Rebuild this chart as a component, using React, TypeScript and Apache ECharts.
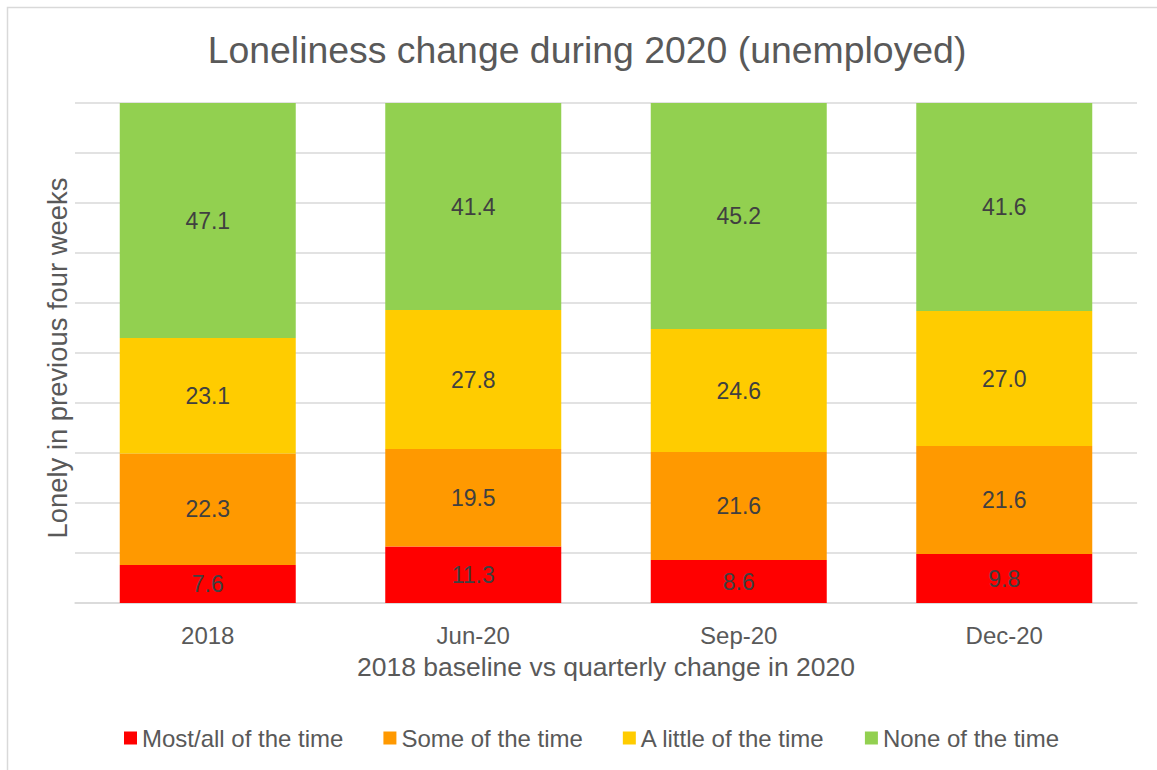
import React, { useEffect, useRef } from "react";
import * as echarts from "echarts";

const categories = ["2018", "Jun-20", "Sep-20", "Dec-20"];
const seriesNames = ["Most/all of the time", "Some of the time", "A little of the time", "None of the time"];
const mostAll = [7.6, 11.3, 8.6, 9.8];
const someTime = [22.3, 19.5, 21.6, 21.6];
const littleTime = [23.1, 27.8, 24.6, 27.0];
const noneTime = [47.1, 41.4, 45.2, 41.6];
const colors = ["#ff0000", "#ff9900", "#ffcc00", "#92d050"];

const FONT = "'Liberation Sans', Arial, sans-serif";

export default function App() {
  const ref = useRef<HTMLDivElement>(null);
  useEffect(() => {
    if (!ref.current) return;
    const chart = echarts.init(ref.current, null, { renderer: "svg" });
    const data = [mostAll, someTime, littleTime, noneTime];
    chart.setOption({
      animation: false,
      backgroundColor: "#ffffff",
      textStyle: { fontFamily: FONT },
      title: {
        text: "Loneliness change during 2020 (unemployed)",
        left: 582,
        top: 26,
        textAlign: "center",
        textStyle: { fontFamily: FONT, fontSize: 37.4, fontWeight: "normal", color: "#595959" },
      },
      graphic: [
        {
          type: "rect",
          shape: { x: 7.5, y: 7.5, width: 1200, height: 800 },
          style: { fill: "none", stroke: "#d9d9d9", lineWidth: 1.5 },
          silent: true,
        },
      ],
      legend: {
        bottom: 15,
        left: 119,
        icon: "rect",
        itemWidth: 13,
        itemHeight: 13,
        itemGap: 40,
        textStyle: { fontFamily: FONT, fontSize: 24, color: "#595959" },
        data: seriesNames,
      },
      grid: { left: 75, right: 20, top: 103, bottom: 167 },
      xAxis: {
        type: "category",
        data: categories,
        axisLine: { lineStyle: { color: "#d9d9d9", width: 1.5 } },
        axisTick: { show: false },
        axisLabel: { fontFamily: FONT, fontSize: 24, color: "#595959", margin: 20 },
        name: "2018 baseline vs quarterly change in 2020",
        nameLocation: "middle",
        nameGap: 50,
        nameTextStyle: { fontFamily: FONT, fontSize: 26.5, color: "#595959" },
      },
      yAxis: {
        type: "value",
        min: 0,
        max: 100,
        interval: 10,
        axisLabel: { show: false },
        axisLine: { show: false },
        axisTick: { show: false },
        splitLine: { lineStyle: { color: "#d9d9d9", width: 1.5 } },
        name: "Lonely in previous four weeks",
        nameLocation: "middle",
        nameGap: 4,
        nameTextStyle: { fontFamily: FONT, fontSize: 27.4, color: "#595959", padding: [0, 10, 0, 0] },
      },
      series: seriesNames.map((name, i) => ({
        name,
        type: "bar",
        stack: "total",
        barWidth: 176,
        data: data[i],
        itemStyle: { color: colors[i] },
        label: {
          show: true,
          position: "inside",
          formatter: (p: any) => Number(p.value).toFixed(1),
          fontFamily: FONT,
          fontSize: 23,
          color: "#404040",
        },
      })),
    });
    return () => chart.dispose();
  }, []);
  return (
    <div
      ref={ref}
      style={{ position: "absolute", left: 0, top: 0, width: 1157, height: 770 }}
    />
  );
}
